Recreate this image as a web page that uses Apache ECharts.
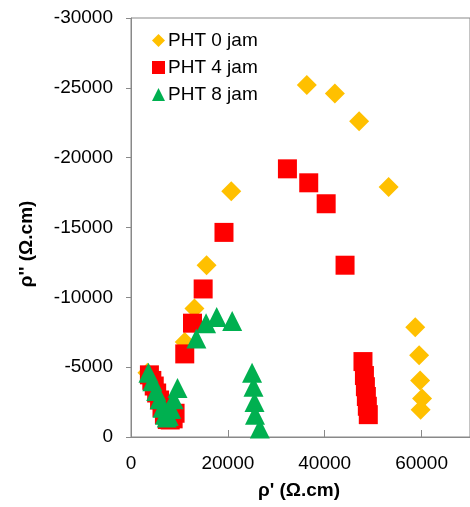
<!DOCTYPE html>
<html><head><meta charset="utf-8">
<script src="https://cdn.jsdelivr.net/npm/echarts@6/dist/echarts.min.js"></script>
<style>html,body{margin:0;padding:0;background:#fff}#c{width:470px;height:507px}</style>
</head><body><div id="c"></div>
<script>
const seriesNames = ['PHT 0 jam', 'PHT 4 jam', 'PHT 8 jam'];
const xTitle = "ρ' (Ω.cm)";
const yTitle = "ρ'' (Ω.cm)";
const xAxisRange = [0, 70000];
const xTickStep = 20000;
const yAxisRange = [-30000, 0];
const yTickStep = 5000;

// PHT 0 jam
const x0 = [3400, 4200, 5000, 5800, 6600, 7200, 7800, 8600, 11100, 13100, 15600, 20700, 36300, 42100, 47100, 53200, 58700, 59500, 59700, 60100, 59800];
const y0 = [-4600, -4000, -3400, -2700, -2100, -1600, -1500, -2000, -6800, -9200, -12300, -17600, -25200, -24600, -22600, -17900, -7850, -5850, -4050, -2750, -1950];
// PHT 4 jam
const x4 = [3800, 4300, 4800, 5300, 5900, 6400, 6900, 7500, 8100, 8700, 9100, 11100, 12700, 14900, 19200, 32300, 36700, 40300, 44200, 47900, 48200, 48400, 48600, 48800, 49000];
const y4 = [-4450, -4050, -3650, -3150, -2650, -2100, -1600, -1250, -1220, -1300, -1700, -5950, -8150, -10600, -14650, -19200, -18200, -16700, -12300, -5400, -4400, -3600, -2900, -2200, -1600];
// PHT 8 jam
const x8 = [3600, 4400, 5200, 5900, 6500, 7000, 7400, 7800, 8300, 8800, 9600, 13500, 15500, 17700, 20900, 25000, 25300, 25500, 25600, 26600];
const y8 = [-4600, -4000, -3300, -2700, -2100, -1600, -1400, -1500, -2000, -2700, -3500, -7050, -8150, -8600, -8300, -4600, -3600, -2500, -1600, -600];

const colors = ['#FFC000', '#FF0000', '#00B050'];
const symbols = ['diamond', 'rect', 'triangle'];
const FONT = 'Liberation Sans, Arial, sans-serif';
const zip = (a, b) => a.map((v, i) => [v, b[i]]);
const seriesData = [zip(x0, y0), zip(x4, y4), zip(x8, y8)];

const chart = echarts.init(document.getElementById('c'), null, {renderer: 'canvas'});
chart.setOption({
  animation: false,
  backgroundColor: '#fff',
  grid: {left: 131, top: 18, width: 350, height: 419, show: true, borderColor: '#898989', borderWidth: 1, containLabel: false},
  legend: {
    orient: 'vertical', left: 147, top: 26, itemWidth: 13, itemHeight: 13, itemGap: 8,
    data: seriesNames.map((n, i) => ({name: n, icon: symbols[i]})),
    textStyle: {fontFamily: FONT, fontSize: 19, color: '#000', padding: [0, 0, 0, -2]}
  },
  xAxis: {
    type: 'value', min: xAxisRange[0], max: xAxisRange[1], interval: xTickStep,
    splitLine: {show: false},
    axisLine: {show: true, onZero: false, lineStyle: {color: '#898989', width: 1}},
    axisTick: {show: true, inside: true, length: 7, lineStyle: {color: '#898989'}},
    axisLabel: {showMaxLabel: false, margin: 17, fontFamily: FONT, fontSize: 19, color: '#000', formatter: v => String(v)}
  },
  yAxis: {
    type: 'value', min: yAxisRange[0], max: yAxisRange[1], interval: yTickStep, inverse: true,
    splitLine: {show: false},
    axisLine: {show: true, onZero: false, lineStyle: {color: '#898989', width: 1}},
    axisTick: {show: true, inside: false, length: 5, lineStyle: {color: '#898989'}},
    axisLabel: {margin: 18, fontFamily: FONT, fontSize: 19, color: '#000', formatter: v => String(v)}
  },
  graphic: [
    {type: 'text', x: 299, y: 491, style: {text: xTitle, fontFamily: FONT, fontSize: 19, fontWeight: 'bold', fill: '#000', textAlign: 'center', textVerticalAlign: 'middle'}},
    {type: 'text', x: 27, y: 244, rotation: Math.PI / 2, style: {text: yTitle, fontFamily: FONT, fontSize: 19, fontWeight: 'bold', fill: '#000', textAlign: 'center', textVerticalAlign: 'middle'}}
  ],
  series: seriesNames.map((n, i) => ({
    name: n, type: 'scatter', data: seriesData[i], symbol: symbols[i],
    symbolSize: i === 1 ? 19 : 20,
    itemStyle: {color: colors[i], opacity: 1},
    z: 2 + i
  }))
});
</script></body></html>
